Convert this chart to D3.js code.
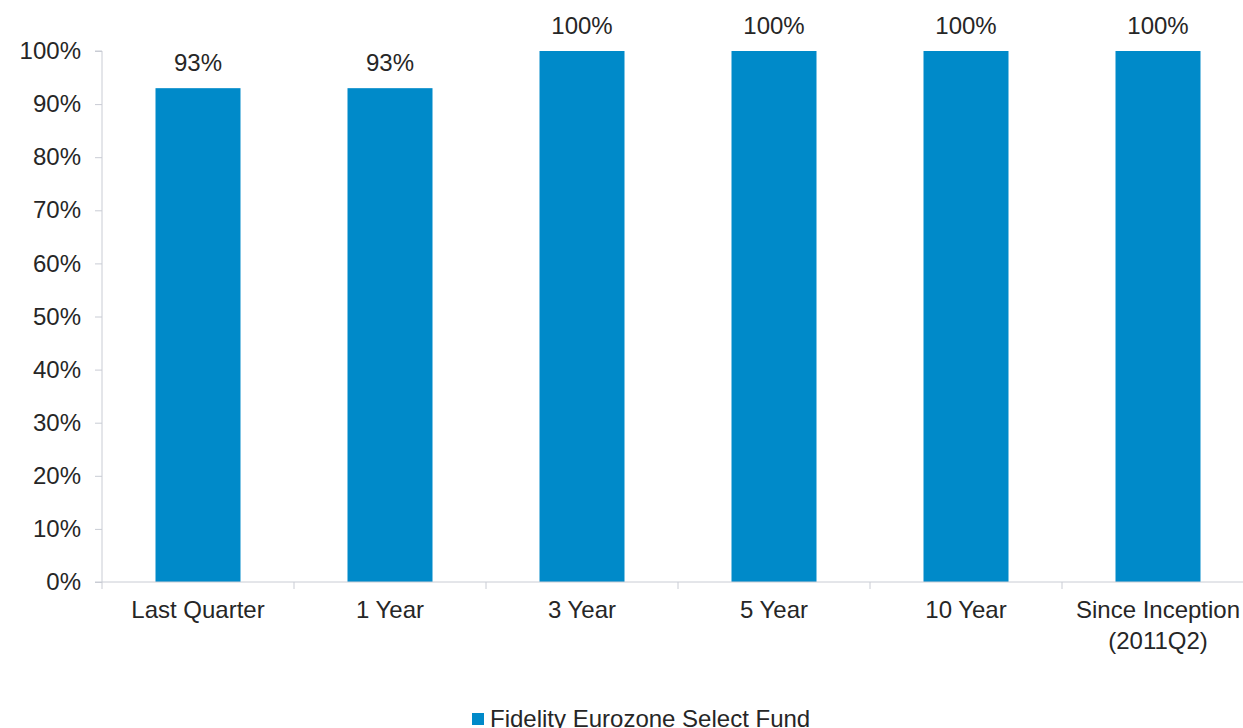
<!DOCTYPE html>
<html><head><meta charset="utf-8">
<script src="https://cdnjs.cloudflare.com/ajax/libs/d3/7.8.5/d3.min.js"></script>
<style>
html,body{margin:0;padding:0;background:#fff;overflow:hidden;}
text{font-family:"Liberation Sans",Arial,sans-serif;fill:#262626;}
</style></head>
<body>
<svg id="chart" width="1243" height="728"></svg>
<script>
const categories = [["Last Quarter"],["1 Year"],["3 Year"],["5 Year"],["10 Year"],["Since Inception","(2011Q2)"]];
const values = [93, 93, 100, 100, 100, 100];
const yTicks = [0,10,20,30,40,50,60,70,80,90,100];
const seriesName = "Fidelity Eurozone Select Fund";

(function(){
const svg = d3.select("#chart");
const mLeft = 102, mRight = 1254, mTop = 51, mBottom = 582;
const color = "#008ac9", axisColor = "#c9ccd4";
const fs = 24;
const keys = categories.map(c => c.join(" "));

const xb = d3.scaleBand().domain(keys).range([mLeft, mRight]);
const y = d3.scaleLinear().domain([0, 100]).range([mBottom, mTop]);
const barW = 85;

// bars
svg.selectAll("rect.bar").data(values).enter().append("rect")
  .attr("x", (d,i) => xb(keys[i]) + xb.bandwidth()/2 - barW/2)
  .attr("width", barW)
  .attr("y", d => y(d)).attr("height", d => y(0) - y(d))
  .attr("fill", color);

// data labels
svg.selectAll("text.lab").data(values).enter().append("text")
  .attr("x", (d,i) => xb(keys[i]) + xb.bandwidth()/2)
  .attr("y", d => y(d) - 17)
  .attr("text-anchor", "middle").attr("font-size", fs)
  .text(d => d + "%");

// y axis
const yAxis = d3.axisLeft(y).tickValues(yTicks).tickFormat(d => d + "%").tickSize(7).tickPadding(14);
const gy = svg.append("g").attr("transform", `translate(${mLeft},0)`).call(yAxis);
gy.select(".domain").attr("stroke", axisColor).attr("d", `M-7,${mTop}H0V${mBottom}H-7`);
gy.selectAll(".tick line").attr("stroke", axisColor);
gy.selectAll(".tick text").attr("font-size", fs).attr("fill", "#262626").attr("font-family", "Liberation Sans, Arial, sans-serif");

// x axis
const gx = svg.append("g").attr("transform", `translate(0,${mBottom})`);
gx.append("line").attr("x1", mLeft).attr("x2", mRight).attr("y1", 0).attr("y2", 0).attr("stroke", axisColor);
gx.selectAll("line.tk").data(d3.range(keys.length + 1)).enter().append("line")
  .attr("x1", i => mLeft + i * xb.step()).attr("x2", i => mLeft + i * xb.step())
  .attr("y1", 0).attr("y2", 7).attr("stroke", axisColor);
categories.forEach((c, i) => {
  const cx = xb(keys[i]) + xb.bandwidth()/2;
  const t = gx.append("text").attr("text-anchor", "middle").attr("font-size", fs)
    .attr("x", cx).attr("y", 36);
  c.forEach((line, j) => t.append("tspan").attr("x", cx).attr("dy", j ? 31 : 0).text(line));
});

// legend
const lg = svg.append("g");
lg.append("rect").attr("x", 472).attr("y", 713).attr("width", 12).attr("height", 12).attr("fill", color);
lg.append("text").attr("x", 490).attr("y", 727).attr("font-size", fs).text(seriesName);
})();
</script>
</body></html>
